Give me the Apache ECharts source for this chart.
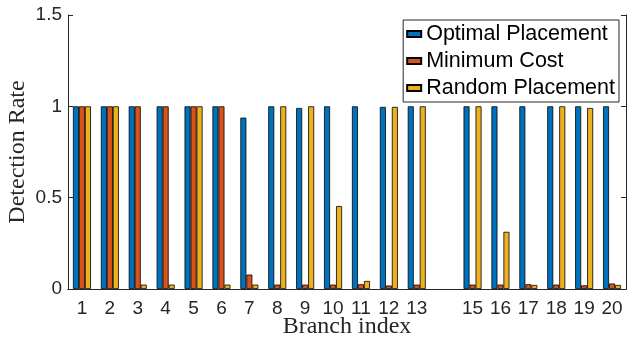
<!DOCTYPE html>
<html>
<head>
<meta charset="utf-8">
<script src="https://cdn.jsdelivr.net/npm/echarts@6/dist/echarts.min.js"></script>
<style>
  html, body { margin: 0; padding: 0; background: #fff; }
  #chart { width: 641px; height: 337px; }
</style>
</head>
<body>
<div id="chart"></div>
<script>
// branch index 14 has no data and no label
var branches = ["1", "2", "3", "4", "5", "6", "7", "8", "9", "10",
                "11", "12", "13", "", "15", "16", "17", "18", "19", "20"];
var seriesNames = ["Optimal Placement", "Minimum Cost", "Random Placement"];
var optimalRate = [1, 1, 1, 1, 1, 1, 0.938, 1, 0.991, 1,
                   1, 0.997, 1, null, 1, 1, 1, 1, 1, 1];
var minCostRate = [1, 1, 1, 1, 1, 1, 0.079, 0.024, 0.024, 0.024,
                   0.026, 0.019, 0.024, null, 0.024, 0.024, 0.026, 0.024, 0.02, 0.03];
var randomRate = [1, 1, 0.024, 0.024, 1, 0.024, 0.024, 1, 1, 0.454,
                  0.044, 0.997, 1, null, 1, 0.313, 0.022, 1, 0.991, 0.022];
var yTicks = [0, 0.5, 1, 1.5];

var colors = ["#0072BD", "#D95319", "#EDB120"];
var axisColor = "#262626";
var sansFont = "Liberation Sans";
var serifFont = "Liberation Serif";

function makeSeries(name, data, color) {
    return {
        name: name,
        type: 'bar',
        data: data,
        barWidth: 6,
        barGap: '0%',
        itemStyle: { color: color, borderColor: '#000', borderWidth: 0.8 }
    };
}

var chart = echarts.init(document.getElementById("chart"), null, { renderer: 'canvas' });
chart.setOption({
    animation: false,
    grid: { left: 68, right: 15, top: 15, bottom: 48, containLabel: false, outerBoundsMode: 'none' },
    legend: {
        data: seriesNames,
        orient: 'vertical',
        right: 22,
        top: 20,
        itemWidth: 14,
        itemHeight: 6,
        itemGap: 5,
        padding: [3, 4, 3, 3],
        backgroundColor: '#fff',
        borderColor: axisColor,
        borderWidth: 1,
        icon: 'rect',
        textStyle: { fontFamily: sansFont, fontSize: 21.5, color: '#000', lineHeight: 22 }
    },
    xAxis: [{
        type: 'category',
        data: branches,
        z: 5,
        name: 'Branch index',
        nameLocation: 'middle',
        nameGap: 26,
        nameMoveOverlap: false,
        nameTextStyle: { fontFamily: serifFont, fontSize: 24, color: axisColor },
        axisLine: { lineStyle: { color: axisColor, width: 1 } },
        axisTick: { inside: true, length: 5, alignWithLabel: true, lineStyle: { color: axisColor } },
        axisLabel: { fontFamily: sansFont, fontSize: 19, color: axisColor, margin: 10, interval: 0 }
    }, {
        type: 'category',
        data: branches,
        position: 'top',
        z: 5,
        axisLine: { lineStyle: { color: axisColor, width: 1 } },
        axisTick: { inside: true, length: 5, alignWithLabel: true, lineStyle: { color: axisColor } },
        axisLabel: { show: false }
    }],
    yAxis: [{
        type: 'value',
        min: yTicks[0],
        max: yTicks[yTicks.length - 1],
        interval: 0.5,
        name: 'Detection Rate',
        nameLocation: 'middle',
        nameGap: 38,
        nameMoveOverlap: false,
        nameTextStyle: { fontFamily: serifFont, fontSize: 24, color: axisColor },
        splitLine: { show: false },
        axisLine: { show: true, lineStyle: { color: axisColor, width: 1 } },
        axisTick: { show: true, inside: true, length: 5, lineStyle: { color: axisColor } },
        axisLabel: { fontFamily: sansFont, fontSize: 19, color: axisColor, margin: 6 }
    }, {
        type: 'value',
        min: yTicks[0],
        max: yTicks[yTicks.length - 1],
        interval: 0.5,
        position: 'right',
        splitLine: { show: false },
        axisLine: { show: true, lineStyle: { color: axisColor, width: 1 } },
        axisTick: { show: true, inside: true, length: 5, lineStyle: { color: axisColor } },
        axisLabel: { show: false }
    }],
    series: [
        makeSeries(seriesNames[0], optimalRate, colors[0]),
        makeSeries(seriesNames[1], minCostRate, colors[1]),
        makeSeries(seriesNames[2], randomRate, colors[2])
    ]
});
</script>
</body>
</html>
